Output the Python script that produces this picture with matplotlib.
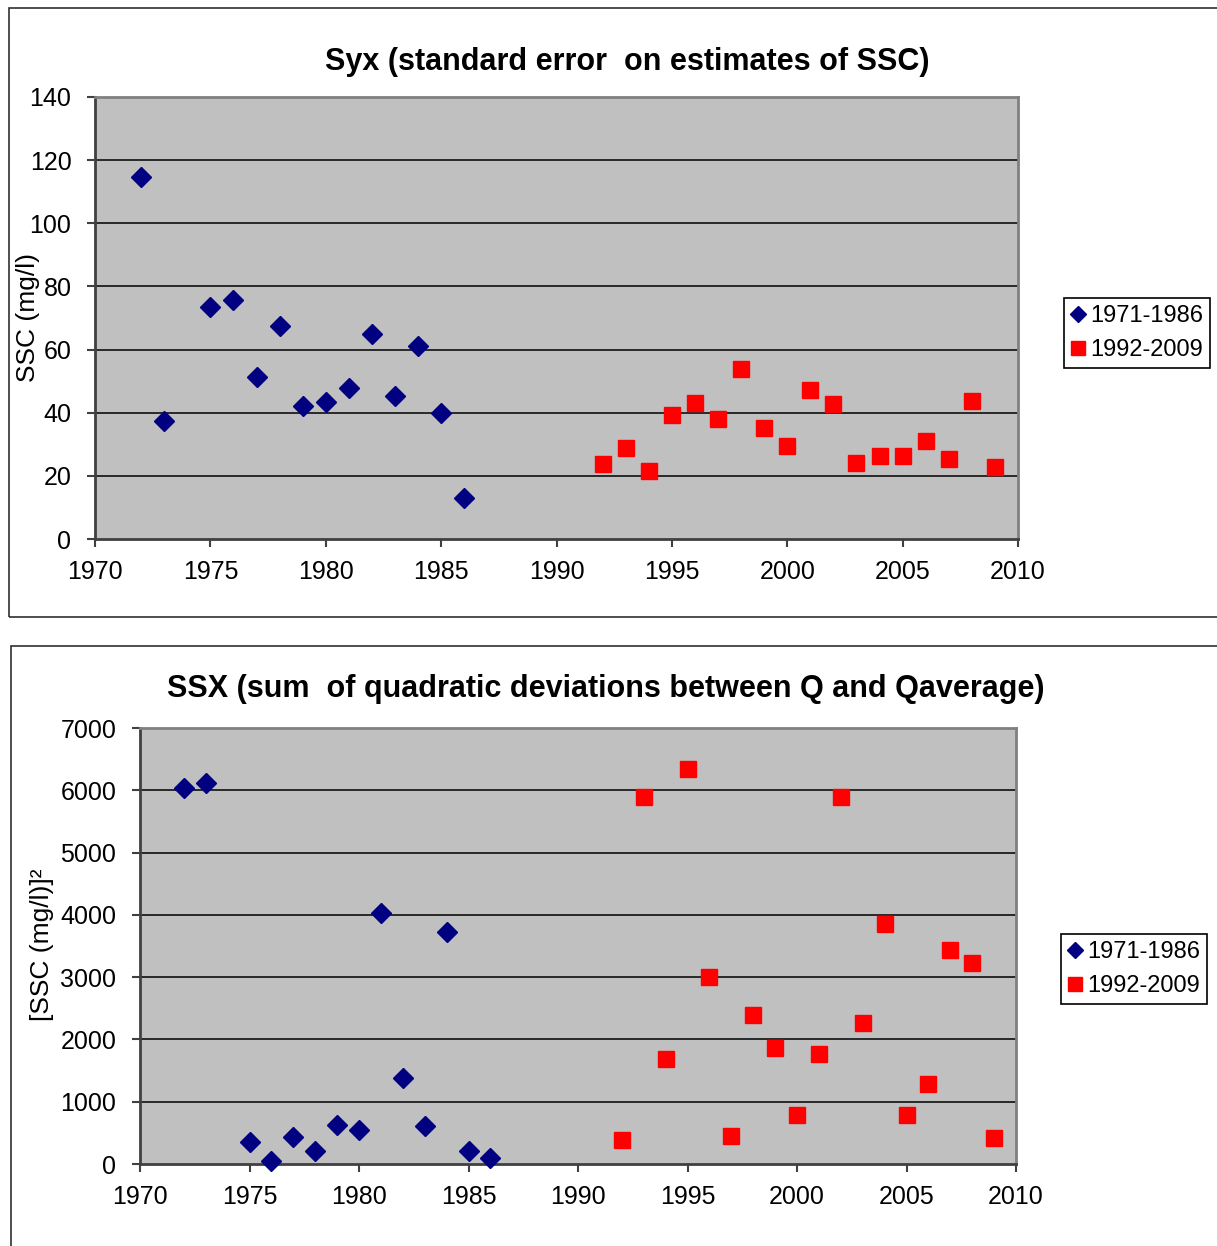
import matplotlib
matplotlib.use("Agg")
import matplotlib.pyplot as plt
from matplotlib.patches import Rectangle
from matplotlib.lines import Line2D

plt.rcParams['font.family'] = ['Liberation Sans', 'DejaVu Sans']

# Years of each period
years_early = [1972, 1973, 1975, 1976, 1977, 1978, 1979, 1980, 1981, 1982, 1983, 1984, 1985, 1986]
years_late = [1992, 1993, 1994, 1995, 1996, 1997, 1998, 1999, 2000, 2001, 2002, 2003, 2004,
              2005, 2006, 2007, 2008, 2009]

# Syx: standard error on SSC estimates (mg/l)
syx_early = [114.7, 37.4, 73.5, 75.7, 51.3, 67.5, 42.1, 43.4, 47.8, 64.9, 45.3, 61.1, 39.9, 13.0]
syx_late = [23.8, 28.8, 21.5, 39.3, 43.1, 38.0, 53.8, 35.2, 29.5, 47.2, 42.8, 24.1, 26.3,
            26.3, 31.0, 25.3, 43.7, 22.8]

# SSX: sum of quadratic deviations between Q and Qaverage
ssx_early = [6040, 6120, 355, 55, 435, 210, 625, 545, 4030, 1380, 610, 3725, 210, 95]
ssx_late = [390, 5890, 1685, 6345, 3005, 455, 2400, 1870, 790, 1765, 5890, 2265, 3860,
            790, 1290, 3440, 3220, 410]

series_labels = ['1971-1986', '1992-2009']
x_ticks = [1970, 1975, 1980, 1985, 1990, 1995, 2000, 2005, 2010]

W, H = 1217, 1246
fig = plt.figure(figsize=(W / 100, H / 100), dpi=100)
fig.patch.set_facecolor('white')


def fx(px):
    return px / W


def fy(py):
    return 1 - py / H


# Chart-area frames around each panel
fig.add_artist(Rectangle((fx(9), fy(617)), fx(1300) - fx(9), fy(8) - fy(617),
                         transform=fig.transFigure, fill=False, edgecolor='#303030',
                         linewidth=1.2, clip_on=False))
fig.add_artist(Rectangle((fx(11), fy(1300)), fx(1300) - fx(11), fy(646) - fy(1300),
                         transform=fig.transFigure, fill=False, edgecolor='#303030',
                         linewidth=1.2, clip_on=False))

NAVY = '#000080'
RED = '#FF0000'
TICK_FS = 18


def style_axes(ax, yticks):
    ax.set_facecolor('#C0C0C0')
    ax.set_xlim(1970, 2010)
    ax.set_xticks(x_ticks)
    ax.set_ylim(yticks[0], yticks[-1])
    ax.set_yticks(yticks)
    for y in yticks[1:-1]:
        ax.axhline(y, color='black', linewidth=1.1, zorder=1)
    ax.spines['left'].set_color('#404040')
    ax.spines['bottom'].set_color('#404040')
    ax.spines['left'].set_linewidth(2)
    ax.spines['bottom'].set_linewidth(2)
    ax.spines['top'].set_color('#808080')
    ax.spines['right'].set_color('#808080')
    ax.spines['top'].set_linewidth(2)
    ax.spines['right'].set_linewidth(2)
    ax.tick_params(direction='out', length=6, width=1.5, color='#404040',
                   labelsize=TICK_FS, labelcolor='black')
    ax.tick_params(axis='x', pad=9)
    ax.tick_params(axis='y', pad=11)


def add_legend(ax, x0, y0):
    handles = [
        Line2D([], [], linestyle='none', marker='D', markersize=8, color=NAVY),
        Line2D([], [], linestyle='none', marker='s', markersize=9.5, color=RED),
    ]
    leg = fig.legend(handles, series_labels, loc='upper left',
                     bbox_to_anchor=(fx(x0), fy(y0)), bbox_transform=fig.transFigure,
                     frameon=True, fancybox=False, fontsize=17, handlelength=0.6,
                     handletextpad=0.2, borderpad=0.3, labelspacing=0.5,
                     borderaxespad=0, framealpha=1)
    leg.get_frame().set_edgecolor('black')
    leg.get_frame().set_linewidth(1.2)


# Top panel: Syx
ax1 = fig.add_axes([fx(95), fy(539), fx(1018) - fx(95), fy(97) - fy(539)])
style_axes(ax1, list(range(0, 141, 20)))
ax1.plot(years_early, syx_early, linestyle='none', marker='D', markersize=10,
         color=NAVY, zorder=3, clip_on=False)
ax1.plot(years_late, syx_late, linestyle='none', marker='s', markersize=11.5,
         color=RED, zorder=3, clip_on=False)
fig.text(fx(627), fy(62), 'Syx (standard error  on estimates of SSC)', ha='center',
         va='center', fontsize=22, fontweight='bold')
fig.text(fx(28), fy(318), 'SSC (mg/l)', rotation=90, ha='center', va='center', fontsize=19)
add_legend(ax1, 1064, 298)

# Bottom panel: SSX
ax2 = fig.add_axes([fx(140), fy(1164), fx(1016) - fx(140), fy(728) - fy(1164)])
style_axes(ax2, list(range(0, 7001, 1000)))
ax2.plot(years_early, ssx_early, linestyle='none', marker='D', markersize=10,
         color=NAVY, zorder=3, clip_on=False)
ax2.plot(years_late, ssx_late, linestyle='none', marker='s', markersize=11.5,
         color=RED, zorder=3, clip_on=False)
fig.text(fx(606), fy(689), 'SSX (sum  of quadratic deviations between Q and Qaverage)',
         ha='center', va='center', fontsize=22, fontweight='bold')
fig.text(fx(42), fy(945), '[SSC (mg/l)]²', rotation=90, ha='center', va='center', fontsize=19)
add_legend(ax2, 1061, 934)

fig.savefig('out.png', dpi=100)
